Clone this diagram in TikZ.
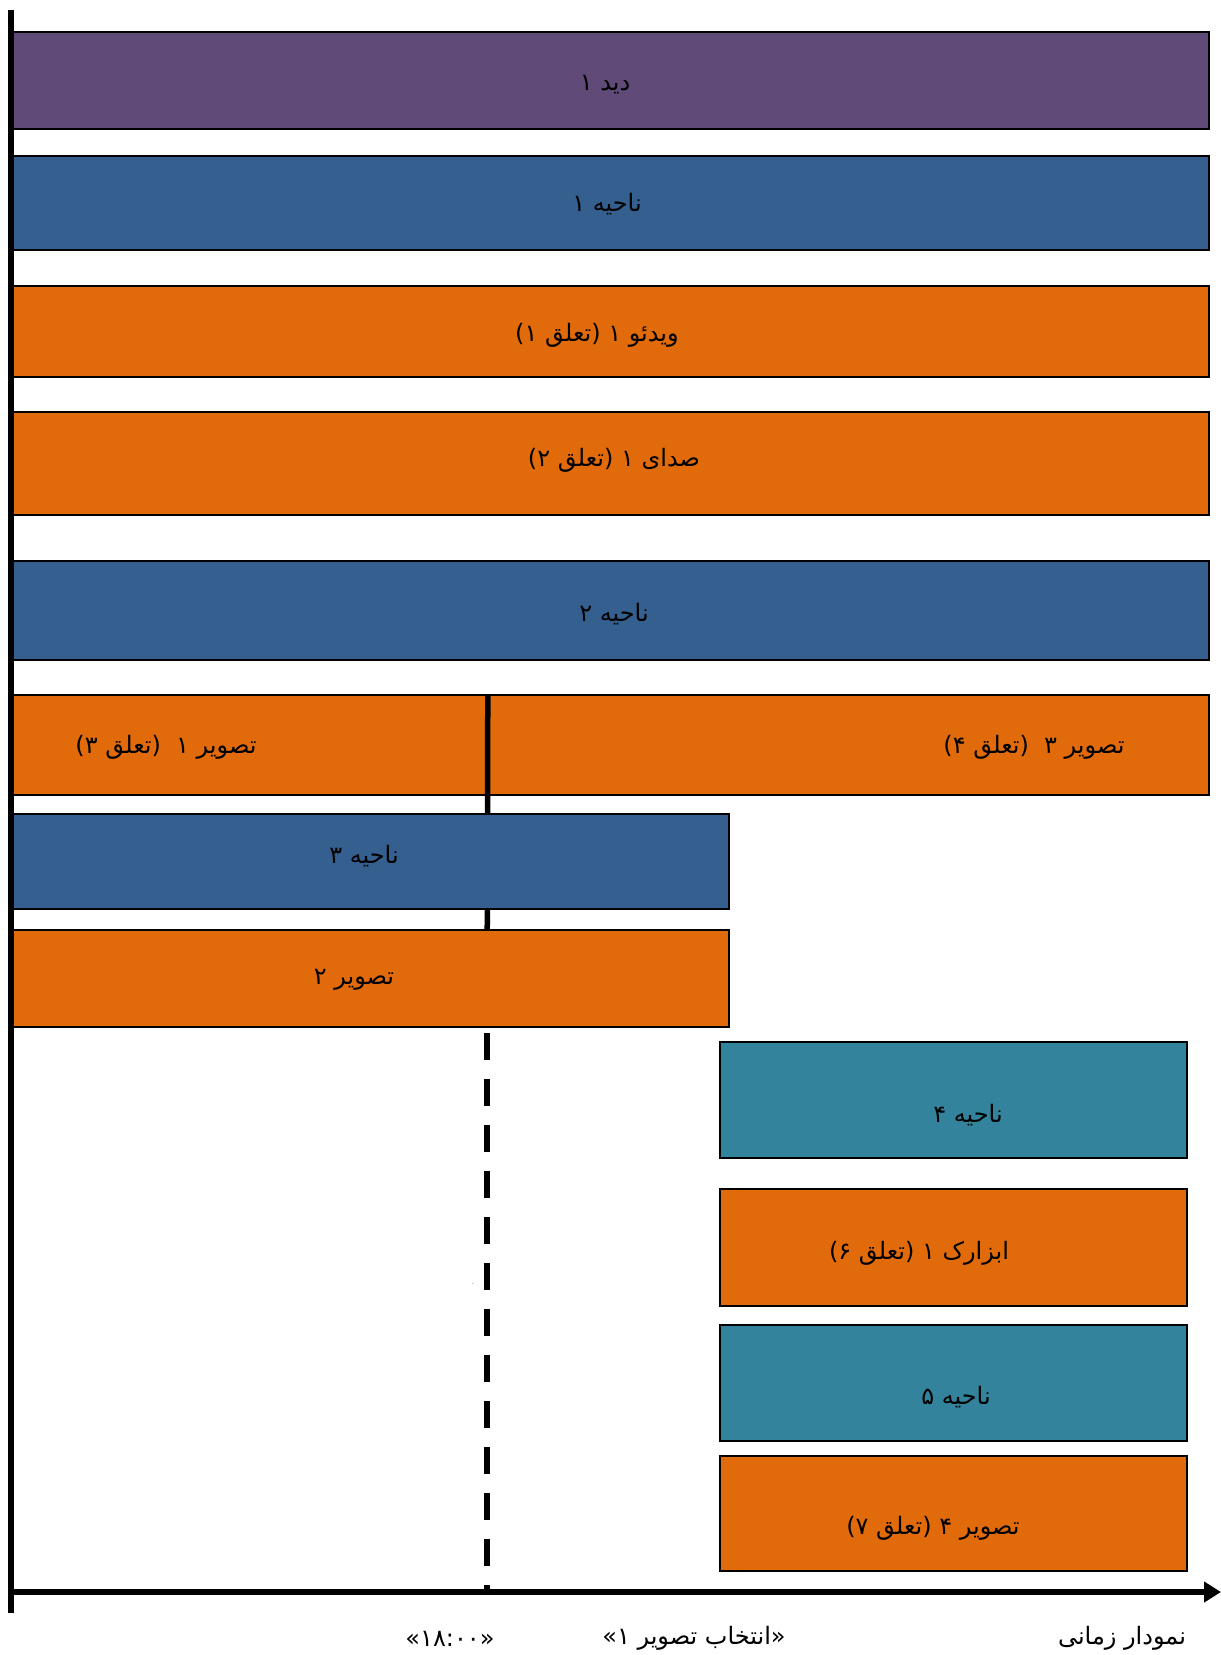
\documentclass[tikz,border=0pt]{standalone}
\usepackage{fontspec}
\usetikzlibrary{arrows.meta}
\TeXXeTstate=1
\newfontfamily\fa[Script=Arabic]{DejaVu Sans}
\newfontfamily\dv{DejaVu Sans}
% a parenthetical Persian phrase, set with enclosing brackets
\newcommand\farsiparen[1]{{\dv(}\beginR #1\endR{\dv)}}
\definecolor{cpurple}{RGB}{95,74,120}
\definecolor{cblue}{RGB}{53,95,143}
\definecolor{corange}{RGB}{225,106,11}
\definecolor{cteal}{RGB}{50,131,155}
\begin{document}
\begin{tikzpicture}[x=1pt,y=-1pt,
  tbox/.style={draw=black, line width=1.6pt, inner sep=0pt, rectangle},
  lbl/.style={font=\fa\fontsize{24}{28}\selectfont, inner sep=0pt, text=black, yshift=-2.5pt},
  axisline/.style={line width=6pt, black},
  cutline/.style={line width=5.5pt, black}]
\useasboundingbox (0,0) rectangle (1221,1655);

% full-width rows
\node[tbox, fill=cpurple, minimum width=1196pt, minimum height=97pt]  (v1)  at (611,80.5)  {};
\node[tbox, fill=cblue,   minimum width=1196pt, minimum height=94pt]  (r1)  at (611,203)   {};
\node[tbox, fill=corange, minimum width=1196pt, minimum height=91pt]  (vid) at (611,331.5) {};
\node[tbox, fill=corange, minimum width=1196pt, minimum height=103pt] (snd) at (611,463.5) {};
\node[tbox, fill=cblue,   minimum width=1196pt, minimum height=99pt]  (r2)  at (611,610.5) {};
% split row
\node[tbox, fill=corange, minimum width=474pt, minimum height=100pt]  (t1)  at (250,745)   {};
\node[tbox, fill=corange, minimum width=722pt, minimum height=100pt]  (t3)  at (848,745)   {};

% solid cut between the two halves
\coordinate (cutmid) at (487,1027);
\draw[cutline] (t1.north east) -- (cutmid);

% left rows
\node[tbox, fill=cblue,   minimum width=716pt, minimum height=95pt]   (r3)  at (371,861.5) {};
\node[tbox, fill=corange, minimum width=716pt, minimum height=97pt]   (t2)  at (371,978.5) {};

% dashed continuation of the cut
\coordinate (dashtop) at (487,1033);
\coordinate (dashbot) at (487,1591);
\draw[line width=6pt, dash pattern=on 27pt off 19pt] (dashtop) -- (dashbot);

% right column
\node[tbox, fill=cteal,   minimum width=467pt, minimum height=116pt]  (r4)  at (953.5,1100)  {};
\node[tbox, fill=corange, minimum width=467pt, minimum height=117pt]  (ab)  at (953.5,1247.5){};
\node[tbox, fill=cteal,   minimum width=467pt, minimum height=116pt]  (r5)  at (953.5,1383)  {};
\node[tbox, fill=corange, minimum width=467pt, minimum height=115pt]  (t4)  at (953.5,1513.5){};

% axes
\coordinate (ytop) at (11,10);
\coordinate (ybot) at (11,1613);
\coordinate (xorg) at (8,1592);
\coordinate (xend) at (1221,1592);
\draw[axisline] (ybot) -- (ytop);
\draw[axisline, -{Triangle[length=17pt,width=20pt]}] (xorg) -- (xend);

% labels
\node[lbl] (lv1)  at (605,82)   {\beginR دید ۱\endR};
\node[lbl] (lr1)  at (607,202)  {\beginR ناحیه ۱\endR};
\node[lbl] (lvid) at (597,333)  {\farsiparen{تعلق ۱}\ \beginR ویدئو ۱\endR};
\node[lbl] (lsnd) at (614,458)  {\farsiparen{تعلق ۲}\ \beginR صدای ۱\endR};
\node[lbl] (lr2)  at (614,612)  {\beginR ناحیه ۲\endR};
\node[lbl] (lt1)  at (166,745)  {\farsiparen{تعلق ۳}\ \ \beginR تصویر ۱\endR};
\node[lbl] (lt3)  at (1034,745) {\farsiparen{تعلق ۴}\ \ \beginR تصویر ۳\endR};
\node[lbl] (lr3)  at (364,854)  {\beginR ناحیه ۳\endR};
\node[lbl] (lt2)  at (354,977)  {\beginR تصویر ۲\endR};
\node[lbl] (lr4)  at (968,1113) {\beginR ناحیه ۴\endR};
\node[lbl] (lab)  at (919,1251) {\farsiparen{تعلق ۶}\ \beginR ابزارک ۱\endR};
\node[lbl] (lr5)  at (956,1395) {\beginR ناحیه ۵\endR};
\node[lbl] (lt4)  at (933,1526) {\farsiparen{تعلق ۷}\ \beginR تصویر ۴\endR};

\node[inner sep=0pt, font=\fontsize{7}{7}\selectfont] (dot) at (473,1284) {.};

\node[lbl] (ltime) at (450,1636)  {{\dv«۱۸:۰۰»}};
\node[lbl] (lsel)  at (694,1636)  {{\dv«}\beginR انتخاب تصویر ۱\endR{\dv»}};
\node[lbl] (laxis) at (1122,1636) {\beginR نمودار زمانی\endR};
\end{tikzpicture}
\end{document}
